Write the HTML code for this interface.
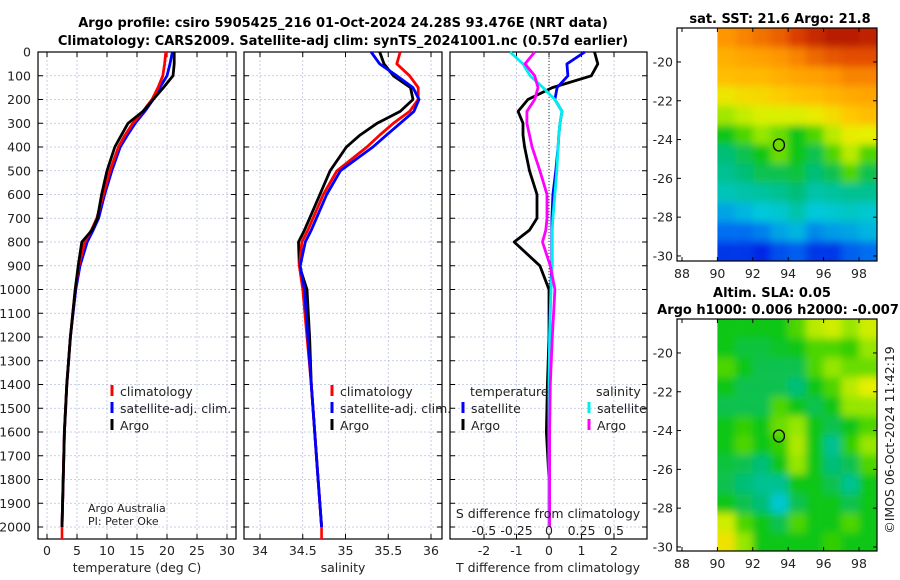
<!DOCTYPE html>
<html><head><meta charset="utf-8">
<style>
body{margin:0;background:#fff;}
svg{display:block;font-family:"DejaVu Sans","Liberation Sans",sans-serif;}
.t{font-size:12.5px;fill:#222;}
.b{font-size:13px;font-weight:bold;fill:#000;}
</style></head><body>
<svg id="fig" width="900" height="580" viewBox="0 0 900 580">
<text class="b" x="343" y="27" text-anchor="middle">Argo profile: csiro 5905425_216 01-Oct-2024 24.28S 93.476E (NRT data)</text>
<text class="b" x="343" y="45" text-anchor="middle">Climatology: CARS2009. Satellite-adj clim: synTS_20241001.nc (0.57d earlier)</text>
<text class="b" x="780" y="23" text-anchor="middle">sat. SST: 21.6 Argo: 21.8</text>
<text class="b" x="772" y="297" text-anchor="middle">Altim. SLA: 0.05</text>
<text class="b" x="778" y="314" text-anchor="middle">Argo h1000: 0.006 h2000: -0.007</text>
<text class="t" transform="translate(894,440) rotate(-90)" text-anchor="middle">©IMOS 06-Oct-2024 11:42:19</text>
<g id="g"></g>
</svg>
<script>
// ---- profile data ----
const depths = [0,50,100,150,200,250,300,350,400,500,600,700,750,800,900,1000,1200,1400,1600,1800,2000];
const tempArgo = [21.2,21.2,21.0,19.4,17.7,16.0,13.5,12.4,11.3,10.0,9.1,8.4,7.5,5.8,5.2,4.7,3.9,3.3,2.9,2.7,2.5];
const tempClim = [19.8,19.6,19.3,18.5,17.5,16.0,14.3,13.0,11.9,10.5,9.4,8.3,7.4,6.3,5.3,4.7,3.9,3.3,2.9,2.7,2.5];
const tempSat = [20.9,20.5,20.0,18.8,17.7,16.3,14.7,13.4,12.2,10.8,9.6,8.6,7.7,6.7,5.5,4.8,3.9,3.3,2.9,2.7,2.5];
const salArgo = [35.4,35.45,35.56,35.76,35.79,35.64,35.37,35.17,35.01,34.82,34.7,34.58,34.52,34.45,34.46,34.55,34.58,34.6,34.64,34.68,34.72];
const salClim = [35.64,35.6,35.75,35.85,35.85,35.75,35.56,35.4,35.25,34.9,34.74,34.62,34.56,34.49,34.46,34.5,34.55,34.6,34.64,34.68,34.72];
const salSat = [35.3,35.4,35.6,35.79,35.86,35.8,35.64,35.48,35.32,34.94,34.78,34.66,34.6,34.53,34.47,34.52,34.56,34.6,34.64,34.68,34.72];
const dTArgo = [1.4,1.5,1.3,0.1,-0.65,-0.95,-0.8,-0.8,-0.75,-0.6,-0.37,-0.37,-0.6,-1.07,-0.28,0,0,-0.05,-0.08,0,0];
const dTSat = [1.1,0.55,0.58,0.25,0.18,0.4,0.34,0.3,0.28,0.21,0.12,0.09,0.09,0.09,0.09,0.05,0.02,0,0,0,0];
const dSSat = [-0.3,-0.2,-0.145,-0.045,0.045,0.1,0.085,0.075,0.07,0.06,0.045,0.03,0.025,0.025,0.025,0.015,0.005,0,0,0,0];
const dSArgo = [-0.11,-0.185,-0.11,-0.085,-0.11,-0.17,-0.17,-0.15,-0.13,-0.07,-0.015,-0.015,-0.025,-0.05,0.01,0.045,0.025,0.01,0.005,0.005,0.005];
const depthTicks = [0,100,200,300,400,500,600,700,800,900,1000,1100,1200,1300,1400,1500,1600,1700,1800,1900,2000];
const tempTicks = [0,5,10,15,20,25,30];
const salTicks = [34,34.5,35,35.5,36];
const dTTicks = [-2,-1,0,1,2];
const dSTicks = [-0.5,-0.25,0,0.25,0.5];
// ---- map data (colormap index 0..1), rows from -18.25 southward, cols 90..99 ----
const sstGrid = [
[0.8,0.82,0.84,0.86,0.9,0.93,0.95,0.95,0.94],
[0.75,0.77,0.78,0.8,0.82,0.85,0.87,0.88,0.88],
[0.72,0.73,0.73,0.75,0.77,0.78,0.8,0.82,0.82],
[0.64,0.66,0.67,0.69,0.71,0.72,0.74,0.76,0.77],
[0.56,0.59,0.61,0.61,0.61,0.63,0.66,0.7,0.72],
[0.45,0.5,0.55,0.52,0.45,0.5,0.58,0.63,0.62],
[0.4,0.42,0.45,0.52,0.45,0.42,0.5,0.58,0.5],
[0.38,0.4,0.42,0.42,0.43,0.4,0.42,0.5,0.42],
[0.35,0.36,0.37,0.38,0.4,0.36,0.37,0.38,0.38],
[0.28,0.3,0.32,0.33,0.36,0.32,0.33,0.34,0.33],
[0.22,0.22,0.24,0.28,0.3,0.25,0.27,0.28,0.3],
[0.15,0.15,0.13,0.18,0.2,0.15,0.15,0.2,0.22]];
const slaGrid = [
[0.45,0.45,0.45,0.45,0.5,0.58,0.6,0.55,0.6],
[0.45,0.43,0.43,0.44,0.45,0.5,0.5,0.48,0.55],
[0.5,0.45,0.42,0.42,0.42,0.5,0.55,0.52,0.52],
[0.45,0.42,0.42,0.42,0.4,0.45,0.5,0.58,0.62],
[0.42,0.42,0.42,0.5,0.45,0.42,0.45,0.55,0.55],
[0.45,0.48,0.45,0.52,0.55,0.45,0.42,0.45,0.5],
[0.45,0.5,0.45,0.48,0.57,0.45,0.38,0.48,0.55],
[0.43,0.42,0.4,0.45,0.55,0.45,0.4,0.42,0.5],
[0.42,0.4,0.38,0.38,0.45,0.45,0.42,0.38,0.45],
[0.45,0.42,0.4,0.33,0.42,0.45,0.45,0.42,0.45],
[0.6,0.5,0.45,0.42,0.5,0.45,0.45,0.5,0.45],
[0.65,0.55,0.45,0.45,0.45,0.45,0.48,0.45,0.45]];
const lonTicks = [88,90,92,94,96,98];
const latTicks = [-20,-22,-24,-26,-28,-30];
const argoLon = 93.476, argoLat = -24.28;

const NS='http://www.w3.org/2000/svg';
const G=document.getElementById('g');
function el(t,a,p){const e=document.createElementNS(NS,t);for(const k in a)e.setAttribute(k,a[k]);(p||G).appendChild(e);return e;}
function txt(x,y,s,anchor,cls,p){const e=el('text',{x:x,y:y,'text-anchor':anchor||'middle',class:cls||'t'},p);e.textContent=s;return e;}

const Y0=52, YB=539;
const yD=d=>Y0+d*0.2375;
function panel(name,x0,x1,xf,ticks){
  const g=el('g',{});
  
  
  depthTicks.forEach(d=>{el('line',{x1:x0,x2:x1,y1:yD(d),y2:yD(d),stroke:'#b8c0dc','stroke-width':0.8,'stroke-dasharray':'2,2'},g);
    el('line',{x1:x0,x2:x0+5,y1:yD(d),y2:yD(d),stroke:'#000'},g);el('line',{x1:x1-5,x2:x1,y1:yD(d),y2:yD(d),stroke:'#000'},g);});
  ticks.forEach(v=>{const x=xf(v);el('line',{x1:x,x2:x,y1:Y0,y2:YB,stroke:'#b8c0dc','stroke-width':0.8,'stroke-dasharray':'2,2'},g);
    el('line',{x1:x,x2:x,y1:Y0,y2:Y0+5,stroke:'#000'},g);el('line',{x1:x,x2:x,y1:YB-5,y2:YB,stroke:'#000'},g);});
  el('rect',{x:x0,y:Y0,width:x1-x0,height:YB-Y0,fill:'none',stroke:'#000','stroke-width':1.2},g);
  return g;
}
function line(g,xs,xf,color,name){
  const p=xs.map((v,i)=>xf(v).toFixed(1)+','+yD(depths[i]).toFixed(1)).join(' ');
  const e=el('polyline',{points:p,fill:'none',stroke:color,'stroke-width':2.8,'stroke-linejoin':'round'},g);
  
  
}
depthTicks.forEach(d=>txt(31,yD(d)+4.5,String(d),'end'));
// panel 1 temp
const xT=v=>47+v*6.0;
const p1=panel('temperature-panel',38,236,xT,tempTicks);
tempTicks.forEach(v=>txt(xT(v),555,String(v)));
txt(137,572,'temperature (deg C)');
el('line',{x1:xT(2.5),x2:xT(2.5),y1:yD(2000),y2:YB,stroke:'#f00','stroke-width':2.6},p1);
line(p1,tempSat,xT,'#00f','temp-satellite-line');
line(p1,tempClim,xT,'#f00','temp-climatology-line');
line(p1,tempArgo,xT,'#000','temp-argo-line');
// panel 2 salinity
const xS=v=>260+(v-34)*85.5;
const p2=panel('salinity-panel',244,442,xS,salTicks);
salTicks.forEach(v=>txt(xS(v),555,String(v)));
txt(343,572,'salinity');
el('line',{x1:xS(34.72),x2:xS(34.72),y1:yD(2000),y2:YB,stroke:'#f00','stroke-width':2.6},p2);
line(p2,salArgo,xS,'#000','sal-argo-line');
line(p2,salClim,xS,'#f00','sal-climatology-line');
line(p2,salSat,xS,'#00f','sal-satellite-line');
// panel 3 differences
const xdT=v=>549+v*32.5, xdS=v=>549+v*130;
const p3=panel('difference-panel',450,647,xdT,dTTicks);
el('line',{x1:549,x2:549,y1:Y0,y2:yD(1000),stroke:'#333','stroke-width':1,'stroke-dasharray':'1,2'},p3);
dTTicks.forEach(v=>txt(xdT(v),555,String(v)));
dSTicks.forEach(v=>txt(xdS(v),535,String(v)));
txt(548,518,'S difference from climatology');
txt(548,572,'T difference from climatology');
line(p3,dTArgo,xdT,'#000','dT-argo-line');
line(p3,dTSat,xdT,'#00f','dT-satellite-line');
line(p3,dSSat,xdS,'#0ee','dS-satellite-line');
line(p3,dSArgo,xdS,'#f0f','dS-argo-line');
// legends
function leg(g,x,y,c,s,name){el('rect',{x:x-1.5,y:y-11,width:3,height:11,fill:c},g);txt(x+8,y,s,'start','t',g);}
leg(p1,112,396,'#f00','climatology','legend-climatology');
leg(p1,112,413,'#00f','satellite-adj. clim.','legend-satellite-adj');
leg(p1,112,430,'#000','Argo','legend-argo');
leg(p2,332,396,'#f00','climatology','legend-climatology-sal');
leg(p2,332,413,'#00f','satellite-adj. clim.','legend-satellite-adj-sal');
leg(p2,332,430,'#000','Argo','legend-argo-sal');
txt(470,396,'temperature','start','t',p3);
txt(596,396,'salinity','start','t',p3);
leg(p3,463,413,'#00f','satellite','legend-dT-satellite');
leg(p3,463,430,'#000','Argo','legend-dT-argo');
leg(p3,589,413,'#0ee','satellite','legend-dS-satellite');
leg(p3,589,430,'#f0f','Argo','legend-dS-argo');
const cr=el('g',{});


txt(88,512,'Argo Australia','start','t',cr).setAttribute('style','font-size:11px');
txt(88,525,'PI: Peter Oke','start','t',cr).setAttribute('style','font-size:11px');

// maps
function cmap(v){
  const st=[[0,[0,0,140]],[0.13,[0,40,230]],[0.22,[0,110,240]],[0.32,[0,200,220]],[0.4,[0,190,120]],[0.46,[20,200,0]],[0.55,[150,230,0]],[0.62,[230,240,0]],[0.7,[255,200,0]],[0.8,[255,150,0]],[0.9,[220,60,0]],[1,[150,0,0]]];
  for(let i=1;i<st.length;i++){if(v<=st[i][0]){const a=st[i-1],b=st[i],t=(v-a[0])/(b[0]-a[0]);return 'rgb('+a[1].map((c,k)=>Math.round(c+(b[1][k]-c)*t)).join(',')+')';}}
  return 'rgb(150,0,0)';
}
function map(name,grid,top,bot,latTop){
  const xL=v=>682+(v-88)*17.7;
  const yL=v=>top+(latTop-v)*19.4;
  const g=el('g',{});
  
  
  const cid=name+'-clip';
  const cp=el('clipPath',{id:cid},g);el('rect',{x:xL(90),y:top,width:877-xL(90),height:bot-top},cp);
  const fid=name+'-blur';
  const f=el('filter',{id:fid,x:'-5%',y:'-5%',width:'110%',height:'110%'},g);el('feGaussianBlur',{stdDeviation:4},f);
  const ig=el('g',{'clip-path':'url(#'+cid+')'},g);
  const bg=el('g',{filter:'url(#'+fid+')'},ig);
  grid.forEach((row,r)=>row.forEach((v,c)=>{
    const x=xL(90+c), y=yL(latTop-r);
    const e=el('rect',{x:x-(c==0?10:0),y:y-(r==0?10:0),width:17.9+(c==0?10:0)+(c==row.length-1?10:0),height:19.6+(r==0?10:0)+(r==grid.length-1?10:0),fill:cmap(v)},bg);
    
    
  }));
  el('rect',{x:677,y:top,width:200,height:bot-top,fill:'none',stroke:'#000','stroke-width':1.2},g);
  latTicks.forEach(v=>{const y=yL(v);el('line',{x1:677,x2:681,y1:y,y2:y,stroke:'#000'},g);el('line',{x1:873,x2:877,y1:y,y2:y,stroke:'#000'},g);txt(673,y+4.5,String(v),'end','t',g);});
  lonTicks.forEach(v=>{const x=xL(v);el('line',{x1:x,x2:x,y1:bot-4,y2:bot,stroke:'#000'},g);el('line',{x1:x,x2:x,y1:top,y2:top+4,stroke:'#000'},g);txt(x,bot+17,String(v),'middle','t',g);});
  const c=el('ellipse',{cx:xL(argoLon),cy:yL(argoLat),rx:5.5,ry:6,fill:'none',stroke:'#000','stroke-width':1.3},g);
  
  
}
map('sst-map',sstGrid,28,261,-18.25);
map('sla-map',slaGrid,319,551,-18.25);
</script>
</body></html>
